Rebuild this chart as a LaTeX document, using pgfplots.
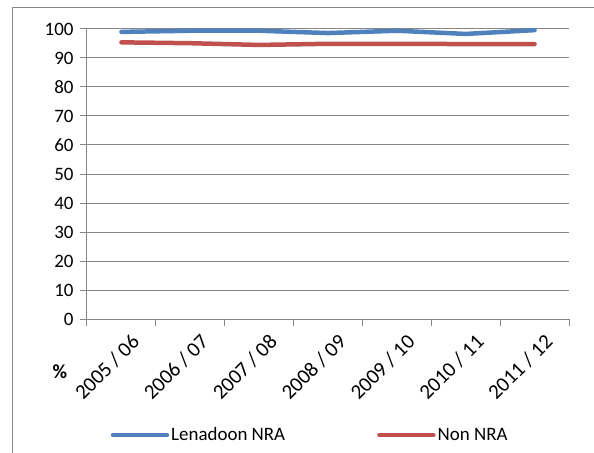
\documentclass[border=0pt]{standalone}
\usepackage{fontspec}
\setmainfont{Carlito}
\usepackage{pgfplots}
\pgfplotsset{compat=1.18}
\definecolor{xlblue}{RGB}{79,129,189}
\definecolor{xlred}{RGB}{192,80,77}
\definecolor{xlgrid}{RGB}{134,134,134}
\begin{document}
\begin{tikzpicture}[font=\fontsize{19}{23}\selectfont]
  % page size = reference size, axis box at (0,0)
  \useasboundingbox (-87bp,-134bp) rectangle (507bp,319bp);
  % chart area border (only left and top visible)
  \draw[xlgrid, line width=1bp] (-74bp,-134bp) -- (-74bp,311bp) -- (507bp,311bp);
  \begin{axis}[
      at={(0,0)}, anchor=south west,
      scale only axis,
      width=482bp, height=290bp,
      xmin=-0.5, xmax=6.5,
      ymin=0, ymax=100,
      axis x line=bottom,
      axis y line=left,
      axis line style={draw=xlgrid, line width=1bp, -},
      xtick={0,...,6},
      xticklabels={2005 / 06,2006 / 07,2007 / 08,2008 / 09,2009 / 10,2010 / 11,2011 / 12},
      major x tick style={draw=none},
      minor xtick={-0.5,0.5,...,6.5},
      minor x tick style={draw=xlgrid, line width=1bp},
      minor tick length=7bp,
      ytick={0,10,...,100},
      major y tick style={draw=xlgrid, line width=1bp},
      major tick length=7bp,
      tick align=outside,
      ymajorgrids=true,
      grid style={draw=xlgrid, line width=1bp},
      xticklabel style={rotate=45, anchor=east, font=\fontsize{21}{25}\selectfont,
                        xshift=5bp, yshift=-19bp},
      yticklabel style={xshift=-3bp},
      /pgf/number format/assume math mode=true,
      legend columns=2,
      legend style={at={(0.463,-0.40)}, anchor=center, draw=none, fill=none,
                    /tikz/every even column/.append style={column sep=90bp},
                    inner sep=0pt},
      legend image code/.code={\draw[#1, line cap=round] (0bp,0bp) -- (54bp,0bp);},
      clip=false,
    ]
    \addplot[xlblue, line width=4.5bp, line cap=round, line join=round] coordinates {
      (0,99.0) (1,99.4) (2,99.4) (3,98.6) (4,99.4) (5,98.3) (6,99.6)
    };
    \addlegendentry{Lenadoon NRA}
    \addplot[xlred, line width=4.5bp, line cap=round, line join=round] coordinates {
      (0,95.4) (1,95.1) (2,94.5) (3,94.9) (4,94.9) (5,94.8) (6,94.8)
    };
    \addlegendentry{Non NRA}
    \node[font=\fontsize{20}{24}\selectfont\bfseries] at (axis description cs:-0.056,-0.183) {\%};
  \end{axis}
\end{tikzpicture}
\end{document}
